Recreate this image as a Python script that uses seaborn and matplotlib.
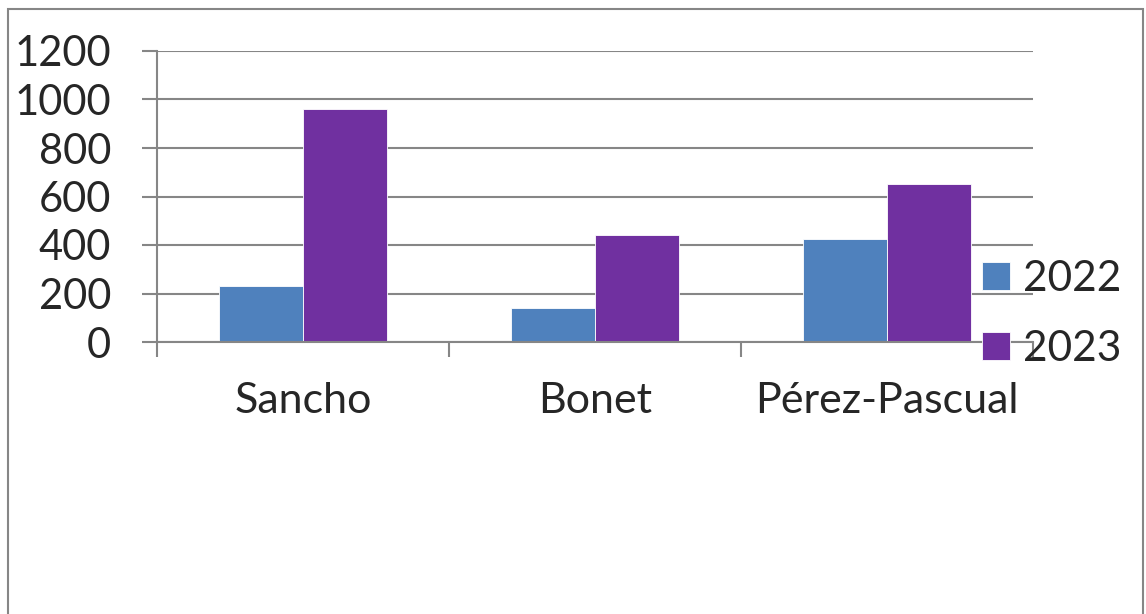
import matplotlib
matplotlib.use("Agg")
import matplotlib.pyplot as plt
import seaborn as sns
import pandas as pd
from matplotlib.patches import Rectangle

categories = ["Sancho", "Bonet", "Pérez-Pascual"]
years = ["2022", "2023"]
values_2022 = [231, 140, 425]
values_2023 = [961, 441, 652]
yticks = [0, 200, 400, 600, 800, 1000, 1200]
colors = ["#4F81BD", "#7030A0"]

df = pd.DataFrame({
    "cat": categories * 2,
    "year": [years[0]] * 3 + [years[1]] * 3,
    "val": values_2022 + values_2023,
})

sns.set_theme(style="white")
plt.rcParams["font.family"] = ["Lato", "DejaVu Sans"]

W, H = 1146, 614
fig = plt.figure(figsize=(W / 100, H / 100), dpi=100)
ax = fig.add_axes([157 / W, 1 - 342 / H, (1033 - 157) / W, (342 - 51) / H])

sns.barplot(data=df, x="cat", y="val", hue="year", palette=colors,
            saturation=1, width=0.574, ax=ax, errorbar=None, legend=True,
            edgecolor="white", linewidth=0.6)

ax.set_xlim(-0.5, 2.5)
ax.set_ylim(0, 1200)
ax.set_yticks(yticks)
ax.set_yticklabels([str(v) for v in yticks])
ax.set_xlabel("")
ax.set_ylabel("")
ax.yaxis.grid(True, color="#868686", linewidth=1.5)
ax.set_axisbelow(True)
for s in ["top", "right"]:
    ax.spines[s].set_visible(False)
ax.spines["left"].set_color("#868686")
ax.spines["left"].set_linewidth(1.5)
ax.spines["bottom"].set_color("#868686")
ax.spines["bottom"].set_linewidth(1.5)

ax.tick_params(axis="y", which="major", length=11, width=1.5, color="#868686",
               labelsize=30, pad=22, left=True)
ax.set_xticks([-0.5, 0.5, 1.5, 2.5], minor=True)
ax.tick_params(axis="x", which="minor", length=11, width=1.5, color="#868686", bottom=True)
ax.tick_params(axis="x", which="major", length=0, labelsize=31, pad=29)

leg = ax.legend(loc="upper left", bbox_to_anchor=(982 / W, 1 - 260 / H),
                bbox_transform=fig.transFigure, frameon=False, fontsize=30.5,
                handlelength=0.66, handleheight=0.66, handletextpad=0.3,
                labelspacing=0.75, borderaxespad=0, borderpad=0)

fig.patches.append(Rectangle((8 / W, -0.05), (1143 - 8) / W, 1 - 9 / H + 0.05,
                             transform=fig.transFigure, fill=False,
                             edgecolor="#868686", linewidth=1.5))

fig.savefig("out.png", dpi=100)
